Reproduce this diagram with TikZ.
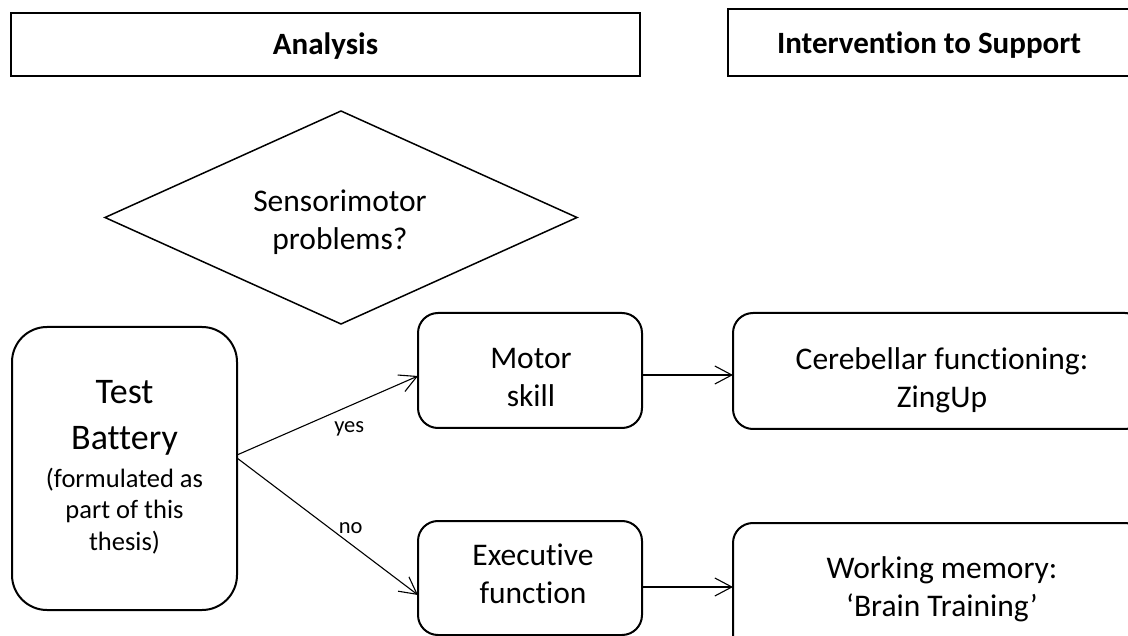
\documentclass[tikz,border=0pt]{standalone}
\usepackage{fontspec}
\setmainfont{Carlito}[Ligatures=NoCommon]
\usetikzlibrary{shapes.geometric,arrows.meta}
\newcommand{\mylines}[1]{\begin{tabular}[t]{@{}c@{}}#1\end{tabular}}
\tikzset{
  hbox/.style={draw, line width=2.4pt, rectangle, inner sep=0pt, outer sep=0pt},
  rbox/.style={draw, line width=2pt, rectangle, rounded corners=20pt, inner sep=0pt, outer sep=0pt},
  txt/.style={anchor=base, inner sep=0pt, font=\fontsize{31.5}{38}\selectfont},
  htxt/.style={anchor=base, inner sep=0pt, font=\fontsize{31}{38}\selectfont\bfseries},
  lbl/.style={inner sep=0pt, font=\fontsize{22.5}{27}\selectfont},
  arr/.style={line width=1.1pt, -{Straight Barb[length=17pt,width=18pt,line width=1.1pt]}}
}
\begin{document}
\begin{tikzpicture}[x=1pt,y=-1pt]
\useasboundingbox[fill=white] (0,0) rectangle (1128,636);
% headers
\node[hbox, minimum width=629pt, minimum height=63pt] (hA) at (325.5,44.5) {};
\node[hbox, minimum width=407pt, minimum height=67pt] (hI) at (931.5,42.5) {};
\node[htxt] (hAt) at (325.5,55) {Analysis};
\node[htxt] (hIt) at (929,54) {Intervention to Support};
% diamond
\node[draw, line width=1.5pt, shape=diamond, inner sep=0pt, outer sep=0pt,
      minimum width=472pt, minimum height=213pt] (dm) at (341,217.5) {};
\node[txt] (dmt) at (340,212) {\mylines{Sensorimotor\\problems?}};
% test battery
\node[rbox, rounded corners=35pt, minimum width=225pt, minimum height=283pt] (tb) at (124.5,468.5) {};
\node[anchor=base, inner sep=0pt, font=\fontsize{36}{47}\selectfont] (tbt) at (124.5,403) {\mylines{Test\\Battery}};
\node[anchor=base, inner sep=0pt, font=\fontsize{26.5}{31.5}\selectfont] (tbs) at (124.5,487) {\mylines{(formulated as\\part of this\\thesis)}};
% middle boxes
\node[rbox, minimum width=224pt, minimum height=115pt] (ms) at (530,370.5) {};
\node[txt] (mst) at (531,369) {\mylines{Motor\\skill}};
\node[rbox, minimum width=224pt, minimum height=114pt] (ef) at (530,578) {};
\node[txt] (eft) at (533,565) {\mylines{Executive\\function}};
% right boxes
\node[rbox, minimum width=412pt, minimum height=116pt] (cf) at (939,371) {};
\node[txt] (cft) at (942,370) {\mylines{Cerebellar functioning:\\ZingUp}};
\node[rbox, minimum width=412pt, minimum height=134pt] (wm) at (939,590) {};
\node[txt] (wmt) at (942,578) {\mylines{Working memory:\\‘Brain Training’}};
% connectors
\draw[arr] ([yshift=13.5pt]tb.east) -- node[lbl, pos=0.62, yshift=-23pt] (yes) {yes} ([yshift=-5.5pt]ms.west);
\draw[arr] ([yshift=10.5pt]tb.east) -- node[lbl, pos=0.628, yshift=16pt] (no) {no} ([yshift=-17pt]ef.west);
\draw[arr] ([yshift=-4.5pt]ms.east) -- ([yshift=-4pt]cf.west);
\draw[arr] ([yshift=-9pt]ef.east) -- ([yshift=3pt]wm.west);
\end{tikzpicture}
\end{document}
